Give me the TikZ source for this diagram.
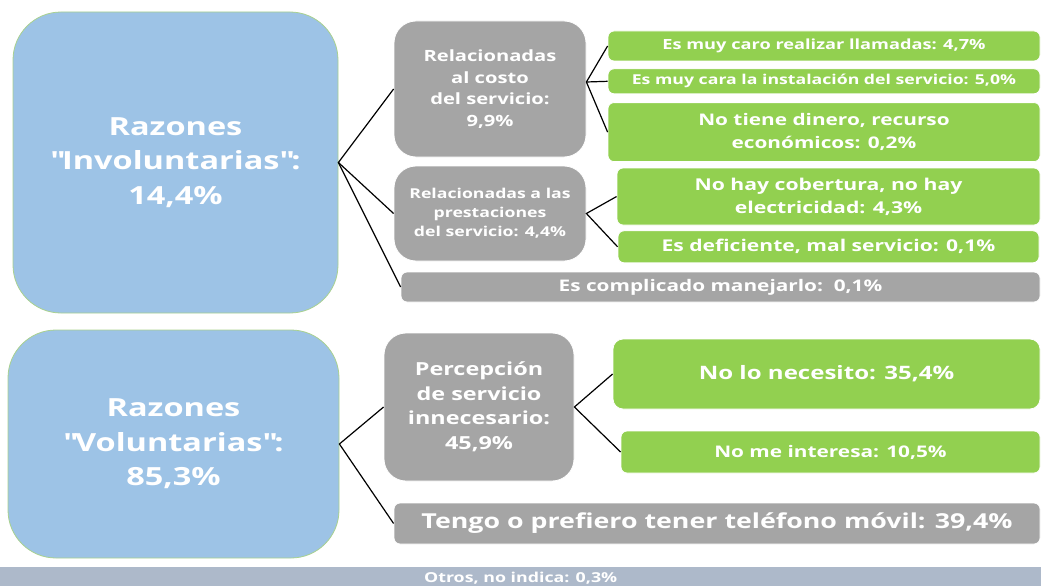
\documentclass[tikz,border=0pt]{standalone}
\usepackage{fontspec}
\setmainfont{Open Sans}[FakeStretch=1.3]
\usepackage{xcolor}
\usepackage{tikz}
\usetikzlibrary{positioning}

\definecolor{razonazul}{HTML}{9DC3E6}
\definecolor{bordeverde}{HTML}{A9D18E}
\definecolor{grupogris}{HTML}{A5A5A5}
\definecolor{motivoverde}{HTML}{92D050}
\definecolor{otrosgris}{HTML}{ADB9CA}
\newcommand{\tam}[2]{\bfseries\fontsize{#1}{#2}\selectfont}

\begin{document}
\begin{tikzpicture}[
    x=1pt, y=-1pt,
    node distance=7pt,
    razon/.style={rectangle, draw=bordeverde, line width=0.8pt, fill=razonazul, rounded corners=48pt, text=white, align=center, inner sep=0pt, font=\tam{25}{34.5}},
    grupo/.style={rectangle, draw=white, line width=0.8pt, fill=grupogris, rounded corners=22pt, text=white, align=center, inner sep=0pt},
    motivo/.style={rectangle, draw=white, line width=0.8pt, fill=#1, rounded corners=6pt, text=white, align=center, inner sep=0pt},
    motivo/.default=motivoverde,
    rama/.style={-, black, line width=1.2pt},
]
    \useasboundingbox (0,0) rectangle (1041,586);

    % Main reasons
    \node[razon, minimum width=325pt, minimum height=301pt] (invol) at (175.5,162.5) {Razones\\\textquotedbl Involuntarias\textquotedbl:\\14,4\%};
    \node[razon, minimum width=331pt, minimum height=228pt] (volun) at (173.5,444) {Razones\\\textquotedbl Voluntarias\textquotedbl:\\85,3\%};

    % Involuntary groups
    \node[grupo, minimum width=192pt, minimum height=136pt, font=\tam{15.5}{21.5}] (costo) at (490,89) {Relacionadas\\al costo\\del servicio:\\9,9\%};
    \node[grupo, minimum width=192pt, minimum height=95pt, font=\tam{13.6}{19}] (prestac) at (490,213.5) {Relacionadas a las\\prestaciones\\del servicio: 4,4\%};
    \node[motivo=grupogris, minimum width=639pt, minimum height=30pt, font=\tam{16}{20}] (complic) at (720.5,287) {Es complicado manejarlo:\ \ 0,1\%};

    % Cost reasons
    \node[motivo, minimum width=432pt, minimum height=30pt, font=\tam{14}{17}] (caro) at (824,46) {Es muy caro realizar llamadas: 4,7\%};
    \node[motivo, minimum width=432pt, minimum height=25pt, font=\tam{13.6}{17}, below=7pt of caro] (cara) {Es muy cara la instalación del servicio: 5,0\%};
    \node[motivo, minimum width=432pt, minimum height=59pt, font=\tam{16}{23}, below=8pt of cara] (dinero) {No tiene dinero, recurso\\económicos: 0,2\%};

    % Service reasons
    \node[motivo, minimum width=423pt, minimum height=57pt, font=\tam{16.3}{23}] (cobert) at (828.5,196.5) {No hay cobertura, no hay\\electricidad: 4,3\%};
    \node[motivo, minimum width=421pt, minimum height=32pt, font=\tam{16.2}{21}, below=5pt of cobert] (defic) {Es deficiente, mal servicio: 0,1\%};

    % Voluntary reasons
    \node[grupo, minimum width=190pt, minimum height=148pt, font=\tam{18}{24.5}] (percep) at (479,407) {Percepción\\de servicio\\innecesario:\\45,9\%};
    \node[motivo, minimum width=427pt, minimum height=70pt, rounded corners=10pt, font=\tam{18.5}{24}] (necesito) at (826.5,374) {No lo necesito: 35,4\%};
    \node[motivo, minimum width=419pt, minimum height=42pt, font=\tam{16}{20}] (interesa) at (830.5,452) {No me interesa: 10,5\%};
    \node[motivo=grupogris, minimum width=646pt, minimum height=41pt, font=\tam{20.6}{26}] (movil) at (717,523.5) {Tengo o prefiero tener teléfono móvil: 39,4\%};

    % Others
    \node[rectangle, fill=otrosgris, minimum width=1041pt, minimum height=22pt, anchor=north west, inner sep=0pt, text=white, font=\tam{13.7}{16}] (otros) at (0,567) {Otros, no indica: 0,3\%};

    % Branches
    \draw[rama] (costo.west) -- (invol.east) -- (prestac.west);
    \draw[rama] (invol.east) -- (complic.west);
    \draw[rama] (caro.west) -- ([yshift=7pt]costo.east) -- (dinero.west);
    \draw[rama] ([yshift=7pt]costo.east) -- (cara.west);
    \draw[rama] (cobert.west) -- (prestac.east) -- (defic.west);
    \draw[rama] (percep.west) -- (volun.east) -- (movil.west);
    \draw[rama] (necesito.west) -- (percep.east) -- (interesa.west);

\end{tikzpicture}
\end{document}
